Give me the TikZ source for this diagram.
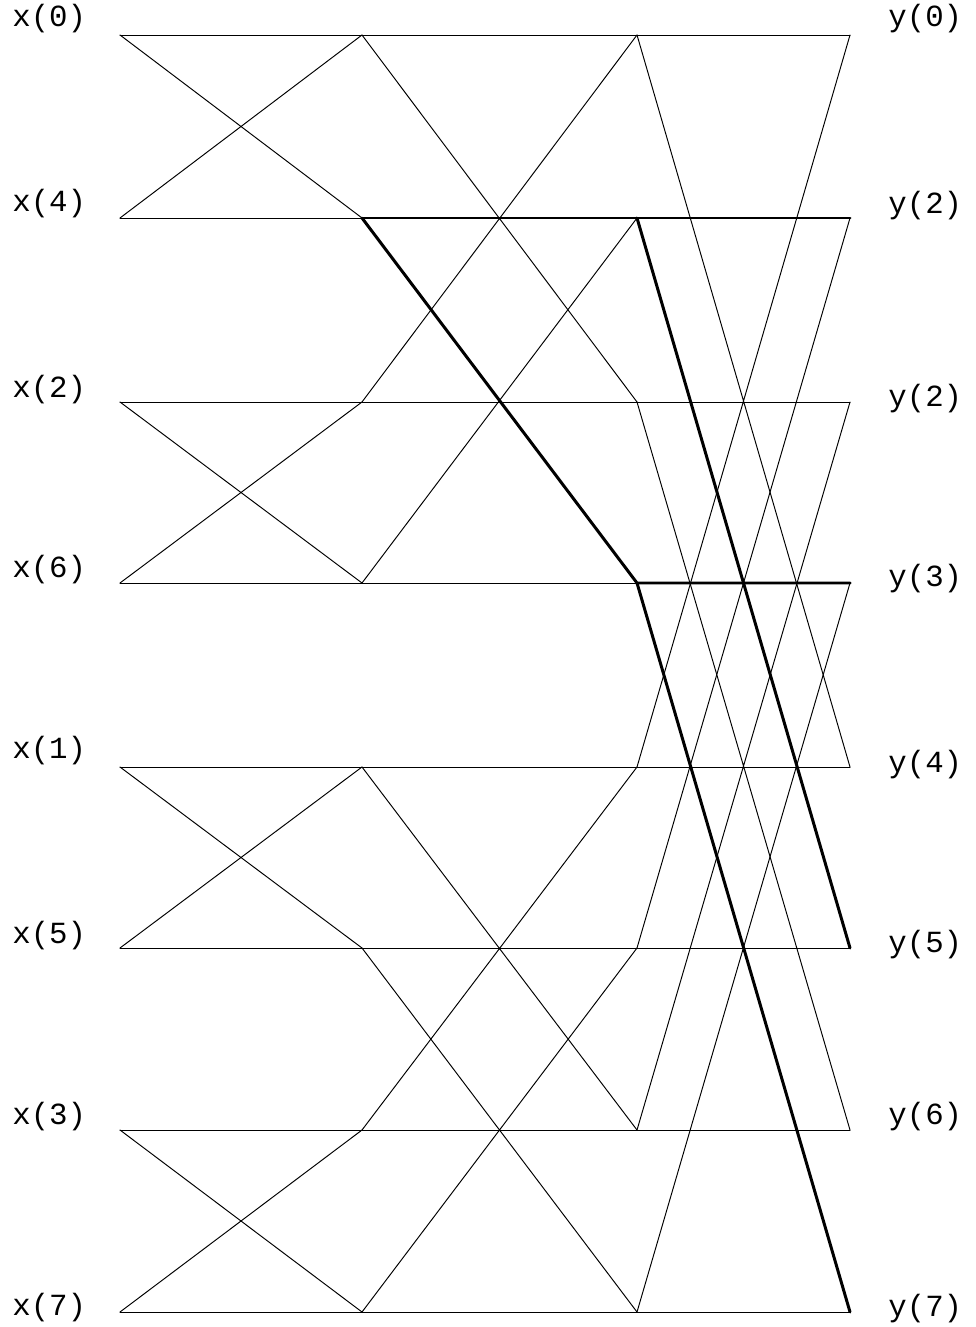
\documentclass[tikz,border=0pt]{standalone}
\usepackage{fontspec}
\setmonofont{Liberation Mono}
\begin{document}
\begin{tikzpicture}[x=0.02cm,y=-0.02cm,line cap=round,line join=round,
  wire/.style={line width=0.55pt},
  hot/.style={line width=1.7pt},
  lbl/.style={font=\ttfamily\fontsize{17.5}{17.5}\selectfont,anchor=west,inner sep=0pt}]
  \useasboundingbox (0,0) rectangle (975,1327);
  % grid points: column c, row r
  \foreach \c/\xx in {0/120,1/362,2/637,3/850}
    \foreach \r/\yy in {0/35,1/218,2/402,3/583,4/767,5/948,6/1130,7/1312}
      \coordinate (n\c\r) at (\xx,\yy);
  % labels
  \foreach \r/\k/\yy in {0/0/19,1/4/204,2/2/390,3/6/570,4/1/751,5/5/936,6/3/1117,7/7/1308}
    \node[lbl] (xl\r) at (12,\yy) {x(\k)};
  \foreach \r/\k/\yy in {0/0/19,1/2/206,2/2/399,3/3/579,4/4/765,5/5/945,6/6/1117,7/7/1309}
    \node[lbl] (yl\r) at (888,\yy) {y(\k)};
  % horizontal lines
  \foreach \r in {0,...,7}
    \draw[wire] (n0\r) -- (n3\r);
  % stage 1
  \foreach \a/\b in {0/1,2/3,4/5,6/7}
    \draw[wire] (n0\a) -- (n1\b) (n0\b) -- (n1\a);
  % stage 2
  \foreach \a/\b in {0/2,1/3,4/6,5/7}
    \draw[wire] (n1\a) -- (n2\b) (n1\b) -- (n2\a);
  % stage 3
  \foreach \a/\b in {0/4,1/5,2/6,3/7}
    \draw[wire] (n2\a) -- (n3\b) (n2\b) -- (n3\a);
  % highlighted paths
  \draw[hot] (n11) -- (n31);
  \draw[hot] (n11) -- (n23) -- (n33);
  \draw[hot] (n21) -- (n35);
  \draw[hot] (n23) -- (n37);
\end{tikzpicture}
\end{document}
